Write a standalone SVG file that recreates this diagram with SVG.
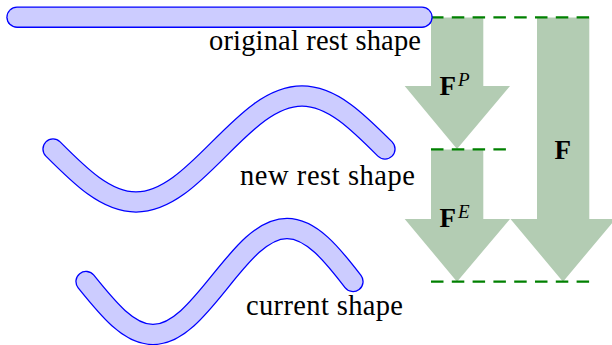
<svg xmlns="http://www.w3.org/2000/svg" width="612" height="345" viewBox="0 0 612 345">
  <style>
    .rod-out { fill: none; stroke: #0000ff; stroke-width: 21.4; stroke-linecap: round; stroke-linejoin: round; }
    .rod-in { fill: none; stroke: #ccccff; stroke-width: 18.8; stroke-linecap: round; stroke-linejoin: round; }
    text { font-family: "Liberation Serif", "Times New Roman", serif; fill: #000; }
    .lbl { font-size: 28.5px; }
    .blk { fill: #b3ccb3; stroke: none; }
    .dash { stroke: #008000; stroke-width: 2.2; stroke-dasharray: 12.5 8.3; fill: none; }
    .F { font-weight: bold; font-size: 27px; }
    .sup { font-style: italic; font-size: 19px; }
  </style>

  <g id="arrows">
    <g id="arrow-FP">
      <polygon class="blk" points="431,17.5 483.3,17.5 483.3,86 510,86 457,149 404.7,86 431,86"/>
    </g>
    <g id="arrow-FE">
      <polygon class="blk" points="431,149.5 483.3,149.5 483.3,219 510,219 457,281.7 404.7,219 431,219"/>
    </g>
    <g id="arrow-F">
      <polygon class="blk" points="537,17.5 589.3,17.5 589.3,219 615.5,219 563,281.7 510.5,219 537,219"/>
    </g>
  </g>

  <g id="connectors">
    <line class="dash" x1="431" y1="17.3" x2="590" y2="17.3"/>
    <line class="dash" x1="431" y1="149.3" x2="511" y2="149.3"/>
    <line class="dash" x1="431" y1="281.7" x2="590" y2="281.7"/>
  </g>

  <g id="original-rest-shape">
    <path class="rod-out" d="M17,17.2 L422,17.2"/>
    <path class="rod-in" d="M17,17.2 L422,17.2"/>
    <text class="lbl" x="209" y="50" textLength="212" lengthAdjust="spacing">original rest shape</text>
  </g>

  <g id="new-rest-shape">
    <path class="rod-out" d="M53,149 C80.06,176.14 105.95,202 136,202 C166.05,202 191.94,176.14 219,149 C246.06,121.86 271.95,96 302,96 C332.05,96 357.94,121.86 385,149"/>
    <path class="rod-in" d="M53,149 C80.06,176.14 105.95,202 136,202 C166.05,202 191.94,176.14 219,149 C246.06,121.86 271.95,96 302,96 C332.05,96 357.94,121.86 385,149"/>
    <text class="lbl" x="240" y="185" textLength="175" lengthAdjust="spacing">new rest shape</text>
  </g>

  <g id="current-shape">
    <path class="rod-out" d="M86,281.5 C107.84,308.64 128.75,334.5 153,334.5 C177.25,334.5 198.16,308.64 220,281.5 C241.84,254.36 262.75,228.5 287,228.5 C311.25,228.5 332.16,254.36 353,281.5"/>
    <path class="rod-in" d="M86,281.5 C107.84,308.64 128.75,334.5 153,334.5 C177.25,334.5 198.16,308.64 220,281.5 C241.84,254.36 262.75,228.5 287,228.5 C311.25,228.5 332.16,254.36 353,281.5"/>
    <text class="lbl" x="246" y="315" textLength="157" lengthAdjust="spacing">current shape</text>
  </g>

  <g id="label-FP">
    <text class="F" x="439.5" y="94.5">F</text>
    <text class="sup" x="458" y="85.5">P</text>
  </g>
  <g id="label-FE">
    <text class="F" x="439.5" y="226.5">F</text>
    <text class="sup" x="458" y="217.5">E</text>
  </g>
  <g id="label-F">
    <text class="F" x="554.5" y="158.5">F</text>
  </g>
</svg>
